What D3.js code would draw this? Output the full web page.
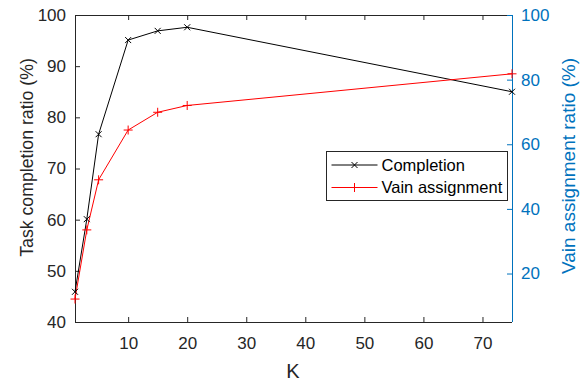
<!DOCTYPE html>
<html><head><meta charset="utf-8">
<script src="https://cdn.jsdelivr.net/npm/d3@7"></script>
<style>body{margin:0;background:#fff}svg{display:block}text{font-family:"Liberation Sans",Arial,sans-serif}</style>
</head><body><svg id="c" width="581" height="381"></svg>
<script>
const kValues = [1, 3, 5, 10, 15, 20, 75];
const completion = [45.9, 60.1, 76.7, 95.1, 96.9, 97.6, 85.0];
const vain = [12.1, 33.5, 49.0, 64.4, 69.9, 72.0, 81.8];
const xTicks = [10, 20, 30, 40, 50, 60, 70];
const yLeftTicks = [40, 50, 60, 70, 80, 90, 100];
const yRightTicks = [20, 40, 60, 80, 100];
const seriesNames = ["Completion", "Vain assignment"];

const svg = d3.select("#c");
const L = 75, R = 512, T = 15, B = 322;
const blue = "#0072BD", dark = "#262626";
const x = d3.scaleLinear().domain([1, 75]).range([L, R]);
const yL = d3.scaleLinear().domain([40, 100]).range([B, T]);
const yR = d3.scaleLinear().domain([5, 100]).range([B, T]);

const fs = "17px";
const gx = svg.append("g").attr("transform", `translate(0,${B})`)
  .call(d3.axisBottom(x).tickValues(xTicks).tickSizeInner(-5).tickSizeOuter(0).tickPadding(15));
const gt = svg.append("g").attr("transform", `translate(0,${T})`)
  .call(d3.axisTop(x).tickValues(xTicks).tickSizeInner(-5).tickSizeOuter(0).tickFormat(""));
const gl = svg.append("g").attr("transform", `translate(${L},0)`)
  .call(d3.axisLeft(yL).tickValues(yLeftTicks).tickSizeInner(-5).tickSizeOuter(0).tickPadding(9));
const gr = svg.append("g").attr("transform", `translate(${R},0)`)
  .call(d3.axisRight(yR).tickValues(yRightTicks).tickSizeInner(-5).tickSizeOuter(0).tickPadding(9));

[gx, gt, gl].forEach(g => {
  g.selectAll("path,line").attr("stroke", dark);
  g.selectAll("text").attr("fill", dark).style("font-size", fs).style("font-family", '"Liberation Sans",Arial,sans-serif');
});
gr.selectAll("path,line").attr("stroke", blue);
gr.selectAll("text").attr("fill", blue).style("font-size", fs).style("font-family", '"Liberation Sans",Arial,sans-serif');
gx.select(".domain").attr("d", `M${L},0.5H${R}`);
gt.select(".domain").attr("d", `M${L},0.5H${R}`);
gl.select(".domain").attr("d", `M0.5,${T}V${B}`);
gr.select(".domain").attr("d", `M0.5,${T}V${B}`);

svg.append("text").attr("x", 293).attr("y", 378).attr("text-anchor", "middle")
  .attr("fill", dark).style("font-size", "20px").text("K");
svg.append("text").attr("transform", "translate(33,157.5) rotate(-90)").attr("text-anchor", "middle")
  .attr("fill", dark).style("font-size", "17.7px").text("Task completion ratio (%)");
svg.append("text").attr("transform", "translate(575,166) rotate(-90)").attr("text-anchor", "middle")
  .attr("fill", blue).style("font-size", "19px").text("Vain assignment ratio (%)");

const lineC = d3.line().x((d, i) => x(kValues[i])).y(d => yL(d));
const lineV = d3.line().x((d, i) => x(kValues[i])).y(d => yR(d));
svg.append("path").attr("d", lineC(completion)).attr("fill", "none").attr("stroke", "#000").attr("stroke-width", 1);
svg.append("path").attr("d", lineV(vain)).attr("fill", "none").attr("stroke", "#ff0000").attr("stroke-width", 1);

function xMark(g, cx, cy, s, col) {
  g.append("path").attr("d", `M${cx-s},${cy-s}L${cx+s},${cy+s}M${cx-s},${cy+s}L${cx+s},${cy-s}`)
    .attr("stroke", col).attr("stroke-width", 1).attr("fill", "none");
}
function plusMark(g, cx, cy, s, col) {
  g.append("path").attr("d", `M${cx-s},${cy}H${cx+s}M${cx},${cy-s}V${cy+s}`)
    .attr("stroke", col).attr("stroke-width", 1).attr("fill", "none");
}
completion.forEach((d, i) => xMark(svg, x(kValues[i]), yL(d), 3, "#000"));
vain.forEach((d, i) => plusMark(svg, x(kValues[i]), yR(d), 4.5, "#ff0000"));

const lg = svg.append("g");
lg.append("rect").attr("x", 326.5).attr("y", 151.5).attr("width", 181).attr("height", 49)
  .attr("fill", "#fff").attr("stroke", dark).attr("stroke-width", 1);
const legY = [165, 187.5];
const legCol = ["#000", "#ff0000"];
seriesNames.forEach((n, i) => {
  lg.append("line").attr("x1", 331.5).attr("x2", 377.5).attr("y1", legY[i]).attr("y2", legY[i])
    .attr("stroke", legCol[i]).attr("stroke-width", 1);
  if (i === 0) xMark(lg, 354.5, legY[i], 3, legCol[i]); else plusMark(lg, 354.5, legY[i], 4.5, legCol[i]);
  lg.append("text").attr("x", 381.5).attr("y", legY[i]).attr("dy", "0.35em")
    .attr("fill", "#000").style("font-size", "16.5px").text(n);
});
</script></body></html>
